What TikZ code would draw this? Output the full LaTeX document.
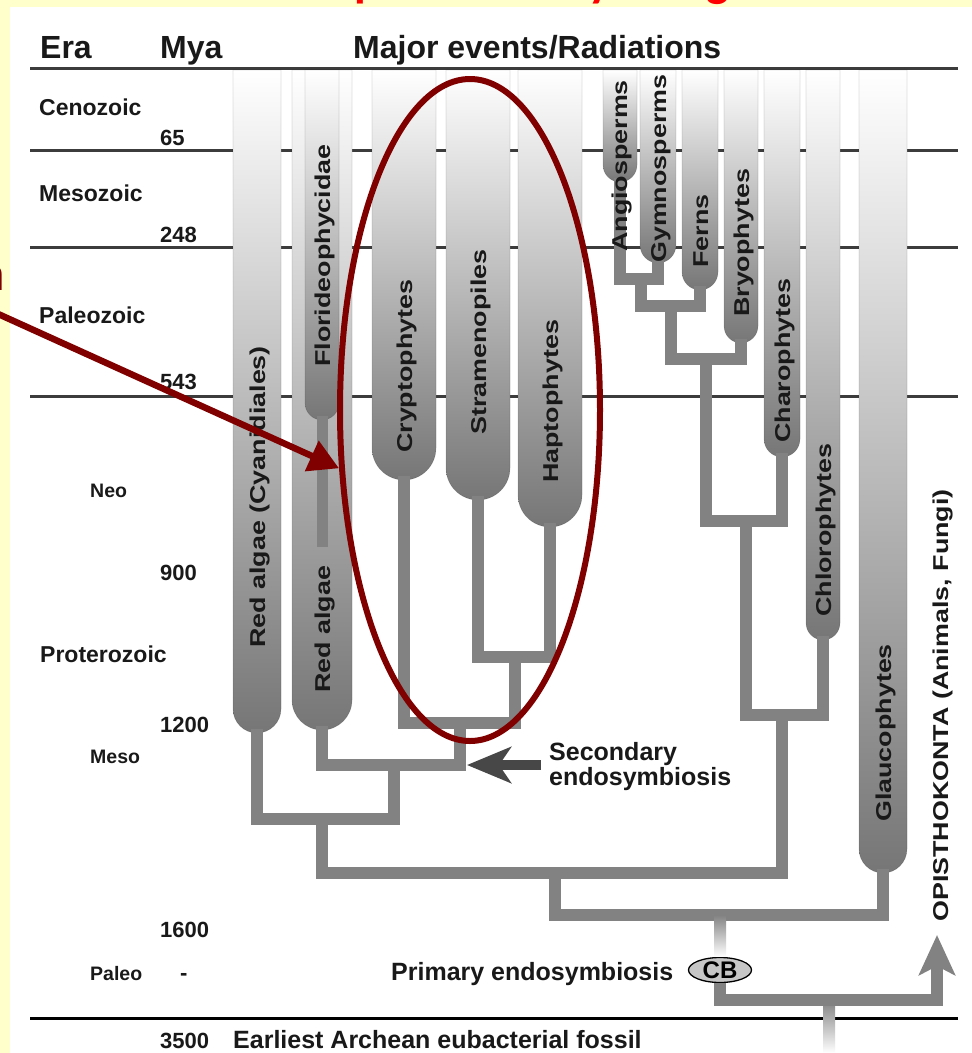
\documentclass[tikz,border=0pt]{standalone}
\usepackage{fontspec}
\setmainfont{Liberation Sans}
\newfontfamily\barfont{Liberation Sans}[FakeStretch=1.25]
\newfontfamily\titlefont{Carlito}
\usetikzlibrary{arrows.meta,shapes.geometric}
\definecolor{slidebg}{RGB}{255,255,204}
\definecolor{treegray}{RGB}{130,130,130}
\definecolor{barbottom}{RGB}{118,118,118}
\definecolor{linegray}{RGB}{60,60,60}
\definecolor{darkred}{RGB}{128,0,0}
\definecolor{inkblack}{RGB}{25,25,25}
\tikzset{
  bar/.style={top color=white, bottom color=barbottom, draw=black, draw opacity=0.12, line width=0.7pt},
  branch/.style={draw=treegray, line width=12.5pt, line join=miter},
  barlabel/.style={rotate=90, anchor=base west, inner sep=0pt, text=inkblack, font=\barfont\bfseries\fontsize{21.5}{26}\selectfont},
  eraline/.style={draw=linegray, line width=3pt},
  era/.style={anchor=base west, inner sep=0pt, text=inkblack, font=\bfseries\fontsize{23}{28}\selectfont},
  subera/.style={era, font=\bfseries\fontsize{19.5}{24}\selectfont},
  mya/.style={era, font=\bfseries\fontsize{22}{26}\selectfont},
  head/.style={era, font=\bfseries\fontsize{32}{38}\selectfont},
  event/.style={era, font=\bfseries\fontsize{25}{30}\selectfont},
  titlebit/.style={text=red, anchor=base west, inner sep=0pt, font=\titlefont\bfseries\fontsize{48}{56}\selectfont},
  secarrow/.style={draw=black!72, line width=10pt, -{Stealth[length=44pt,width=36pt,inset=12pt]}},
  pointer/.style={draw=darkred, line width=6.5pt, -{Triangle[length=30pt,width=32pt]}},
}
\begin{document}
\begin{tikzpicture}[x=1pt,y=-1pt]
\useasboundingbox (0,0) rectangle (972,1053);
\fill[slidebg] (0,0) rectangle (972,1053);
% slide title, mostly off the page
\node[titlebit] (t1) at (354,-4) {p};
\node[titlebit] (t2) at (588,-4) {y};
\node[titlebit] (t3) at (706,-4) {g};
\node[text=darkred, anchor=base east, inner sep=0pt, font=\fontsize{44}{50}\selectfont] (frag) at (5,290) {n};
\fill[white] (10,7) rectangle (972,1053);

% time scale
\draw[eraline] (30,68) -- (958,68);
\draw[eraline] (30,150) -- (958,150);
\draw[eraline] (30,247) -- (958,247);
\draw[eraline] (30,396) -- (958,396);
\draw[eraline, draw=black] (30,1018) -- (958,1018);

\node[head] (era) at (40,58) {Era};
\node[head] (mya) at (160,58) {Mya};
\node[head] (major) at (353,58) {Major events/Radiations};

\node[era] (ceno) at (39,115) {Cenozoic};
\node[mya] (m65) at (160,145) {65};
\node[era] (meso) at (39,201) {Mesozoic};
\node[mya] (m248) at (160,242) {248};
\node[era] (paleoz) at (39,323) {Paleozoic};
\node[mya] (m543) at (160,389) {543};
\node[subera] (neo) at (90,497) {Neo};
\node[mya] (m900) at (160,580) {900};
\node[era] (prot) at (40,662) {Proterozoic};
\node[mya] (m1200) at (160,732) {1200};
\node[subera] (mesop) at (90,763) {Meso};
\node[mya] (m1600) at (160,937) {1600};
\node[subera] (paleop) at (90,980) {Paleo};
\node[mya] (dash) at (180,980) {-};
\node[mya] (m3500) at (160,1048) {3500};
\node[event] (fossil) at (233,1048) {Earliest Archean eubacterial fossil};

% lineages
\path[bar] (233,70) -- (233,709) arc[start angle=180, end angle=0, radius=24] -- (281,70) -- cycle;
\path[bar] (292,70) -- (292,700) arc[start angle=180, end angle=0, radius=30] -- (352,70) -- cycle;
\path[bar] (305,70) -- (305,403) arc[start angle=180, end angle=0, radius=17] -- (339,70) -- cycle;
\path[bar] (372,70) -- (372,448) arc[start angle=180, end angle=0, radius=32] -- (436,70) -- cycle;
\path[bar] (446,70) -- (446,468) arc[start angle=180, end angle=0, radius=32] -- (510,70) -- cycle;
\path[bar] (518,70) -- (518,495) arc[start angle=180, end angle=0, radius=32] -- (582,70) -- cycle;
\path[bar] (603,70) -- (603,165) arc[start angle=180, end angle=0, radius=17] -- (637,70) -- cycle;
\path[bar] (640,70) -- (640,245) arc[start angle=180, end angle=0, radius=18] -- (676,70) -- cycle;
\path[bar] (682,70) -- (682,272) arc[start angle=180, end angle=0, radius=18] -- (718,70) -- cycle;
\path[bar] (724,70) -- (724,326) arc[start angle=180, end angle=0, radius=17] -- (758,70) -- cycle;
\path[bar] (764,70) -- (764,439) arc[start angle=180, end angle=0, radius=18] -- (800,70) -- cycle;
\path[bar] (806,70) -- (806,623) arc[start angle=180, end angle=0, radius=17] -- (840,70) -- cycle;
\path[bar] (859,70) -- (859,849) arc[start angle=180, end angle=0, radius=24] -- (907,70) -- cycle;

\coordinate (cyan) at (257,729);
\coordinate (redalg) at (322,726);
\coordinate (flori) at (322,416);
\coordinate (floriend) at (322,547);
\coordinate (crypt) at (404,476);
\coordinate (stram) at (478,496);
\coordinate (hapt) at (550,523);
\coordinate (angio) at (620,178);
\coordinate (gymno) at (658,259);
\coordinate (ferns) at (700,286);
\coordinate (bryo) at (741,339);
\coordinate (charo) at (782,453);
\coordinate (chloro) at (823,636);
\coordinate (glauco) at (883,869);

\coordinate (SH) at (515,657);
\coordinate (CSH) at (460,723);
\coordinate (RC) at (394,765);
\coordinate (RR) at (322,819);
\coordinate (SP) at (641,279);
\coordinate (FS) at (671,306);
\coordinate (LP) at (706,359);
\coordinate (SC) at (746,521);
\coordinate (G) at (782,715);
\coordinate (RG) at (555,873);
\coordinate (P) at (720,915);
\coordinate (root) at (829,1000);
\coordinate (base) at (829,1053);
\coordinate (opis) at (937,935);

\draw[branch, line width=11pt] (flori) -- (floriend);
\draw[branch] (stram) |- (SH) -| (hapt);
\draw[branch] (crypt) |- (CSH) -| (SH);
\draw[branch] (redalg) |- (RC) -| (CSH);
\draw[branch] (cyan) |- (RR) -| (RC);
\draw[branch] (angio) |- (SP) -| (gymno);
\draw[branch] (SP) |- (FS) -| (ferns);
\draw[branch] (FS) |- (LP) -| (bryo);
\draw[branch] (LP) |- (SC) -| (charo);
\draw[branch] (SC) |- (G) -| (chloro);
\draw[branch] (RR) |- (RG) -| (G);
\draw[branch] (RG) |- (P) -| (glauco);

\node[draw=black, line width=1.3pt, fill=gray!45, ellipse, minimum width=63pt, minimum height=25pt, inner sep=0pt, font=\bfseries\fontsize{24}{28}\selectfont] (CB) at (720,970) {CB};
\shade[top color=treegray, bottom color=white] ([xshift=-6pt]P) rectangle ([xshift=6pt]CB.north);
\shade[top color=treegray, middle color=treegray!85, bottom color=white] ([xshift=-6pt]root) rectangle ([xshift=6pt]base);
\draw[branch, -{Stealth[length=40pt,width=36pt,inset=9pt]}] (CB.south) |- (root) -| (opis);

\node[barlabel] (cyantext) at (265,648) {Red algae (Cyanidiales)};
\node[barlabel] (redtext) at (330,693) {Red algae};
\node[barlabel] (floritext) at (330,367) {Florideophycidae};
\node[barlabel] (crypttext) at (412,453) {Cryptophytes};
\node[barlabel] (stramtext) at (486,435) {Stramenopiles};
\node[barlabel] (hapttext) at (558,483) {Haptophytes};
\node[barlabel] (angiotext) at (627,252) {Angiosperms};
\node[barlabel] (gymnotext) at (666,263) {Gymnosperms};
\node[barlabel] (fernstext) at (708,268) {Ferns};
\node[barlabel] (bryotext) at (749,317) {Bryophytes};
\node[barlabel] (charotext) at (790,443) {Charophytes};
\node[barlabel] (chlorotext) at (831,617) {Chlorophytes};
\node[barlabel] (glaucotext) at (891,822) {Glaucophytes};
\node[barlabel] (opistext) at (948,922) {OPISTHOKONTA (Animals, Fungi)};

\node[event] (prim) at (391,980) {Primary endosymbiosis};
\node[event] (sec1) at (549,760) {Secondary};
\node[event] (sec2) at (549,785) {endosymbiosis};
\coordinate (secstart) at (541,765);
\coordinate (sectip) at (467,765);
\draw[secarrow] (secstart) -- (sectip);

% highlighted clade
\node[draw=darkred, line width=6pt, ellipse, minimum width=260pt, minimum height=662pt, inner sep=0pt] (clade) at (470,410) {};
\coordinate (ptr) at (-4,313);
\draw[pointer] (ptr) -- (clade.204);
\end{tikzpicture}
\end{document}
